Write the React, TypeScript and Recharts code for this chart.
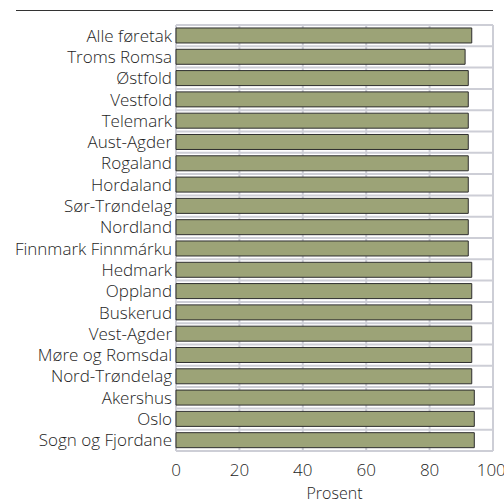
import { Bar, BarChart, CartesianGrid, XAxis, YAxis } from "recharts";

const regions = [
  "Alle føretak",
  "Troms Romsa",
  "Østfold",
  "Vestfold",
  "Telemark",
  "Aust-Agder",
  "Rogaland",
  "Hordaland",
  "Sør-Trøndelag",
  "Nordland",
  "Finnmark Finnmárku",
  "Hedmark",
  "Oppland",
  "Buskerud",
  "Vest-Agder",
  "Møre og Romsdal",
  "Nord-Trøndelag",
  "Akershus",
  "Oslo",
  "Sogn og Fjordane",
];

const prosent = [
  93.3, 91.2, 92.2, 92.2, 92.2, 92.2, 92.2, 92.2, 92.2, 92.2, 92.2, 93.3, 93.3,
  93.3, 93.3, 93.3, 93.3, 94.1, 94.1, 94.1,
];

const xTicks = [0, 20, 40, 60, 80, 100];

const data = regions.map((name, i) => ({ name, value: prosent[i] }));

const font = "'Open Sans', sans-serif";

// grid lines on the band edges, between the bars
const rowLines = ({ offset }: any) => {
  const step = offset.height / regions.length;
  return [...regions.map((_, i) => offset.top + i * step), offset.top + offset.height];
};

export default function App() {
  return (
    <div style={{ position: "absolute", left: 0, top: 0, width: 504, height: 501, background: "#fff" }}>
      <div
        style={{
          position: "absolute",
          left: 16,
          top: 10,
          width: 477,
          height: 1,
          background: "#333",
        }}
      />
      <BarChart
        width={504}
        height={501}
        data={data}
        layout="vertical"
        barCategoryGap="14%"
        margin={{ top: 25, right: 11, left: 0, bottom: 0 }}
        style={{ fontFamily: font }}
      >
        <CartesianGrid
          stroke="#cdced6"
          strokeWidth={2}
          horizontalCoordinatesGenerator={rowLines}
        />
        <XAxis
          type="number"
          domain={[0, 100]}
          ticks={xTicks}
          axisLine={false}
          tickLine={false}
          tickSize={0}
          tickMargin={13}
          height={50}
          tick={{ fill: "#1e1e1e", fontSize: 17, fontWeight: 300 }}
          label={{
            value: "Prosent",
            position: "insideBottom",
            offset: 2,
            fill: "#1e1e1e",
            fontSize: 16,
            fontWeight: 300,
          }}
        />
        <YAxis
          type="category"
          dataKey="name"
          width={176}
          axisLine={false}
          tickLine={false}
          tickSize={0}
          tickMargin={4}
          interval={0}
          tick={{ fill: "#1e1e1e", fontSize: 17, fontWeight: 300 }}
        />
        <Bar
          dataKey="value"
          fill="#9ca377"
          stroke="#2e2e2e"
          strokeWidth={1}
          isAnimationActive={false}
        />
      </BarChart>
    </div>
  );
}
